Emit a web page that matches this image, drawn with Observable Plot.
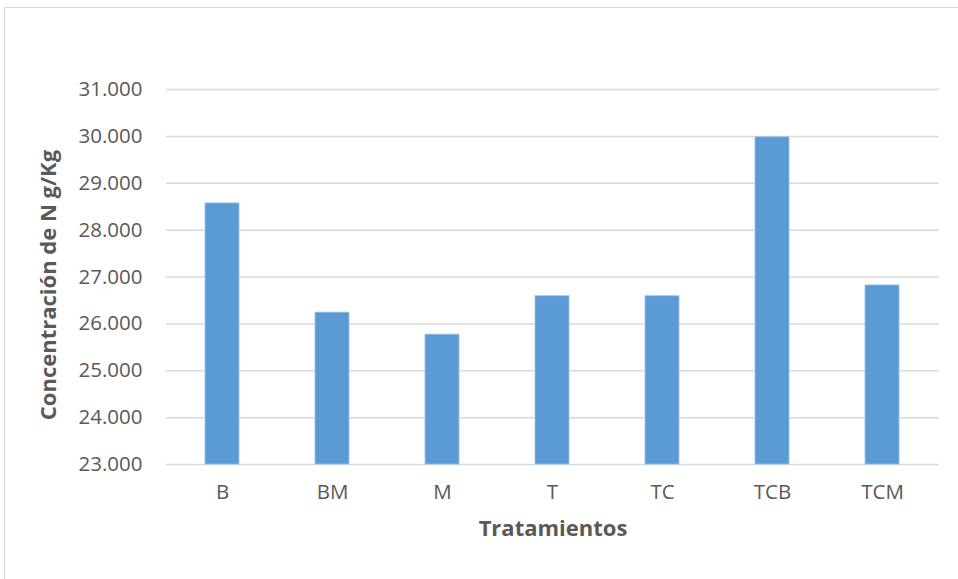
<!DOCTYPE html>
<html>
<head>
<meta charset="utf-8">
<script src="https://cdn.jsdelivr.net/npm/d3@7"></script>
<script src="https://cdn.jsdelivr.net/npm/@observablehq/plot@0.6"></script>
<style>
  html, body { margin: 0; padding: 0; background: #fff; }
  #wrap { position: relative; width: 958px; height: 579px; overflow: hidden; }
  #frame { position: absolute; left: 4px; top: 7px; width: 980px; height: 600px; border: 1px solid #d9d9d9; box-sizing: border-box; }
  #chart { position: absolute; left: 0; top: 0; }
</style>
</head>
<body>
<div id="wrap"><div id="frame"></div><div id="chart"></div></div>
<script>
const categories = ["B", "BM", "M", "T", "TC", "TCB", "TCM"];
const values = [28.57, 26.24, 25.77, 26.59, 26.59, 29.98, 26.82];
const yTicks = [23, 24, 25, 26, 27, 28, 29, 30, 31];
const yTickLabels = ["23.000", "24.000", "25.000", "26.000", "27.000", "28.000", "29.000", "30.000", "31.000"];
const yDomain = [23, 31];
const xTitle = "Tratamientos";
const yTitle = "Concentración de N g/Kg";

const data = categories.map((c, i) => ({ cat: c, value: values[i] }));
const font = "'Open Sans', sans-serif";

const chart = Plot.plot({
  width: 958,
  height: 579,
  marginLeft: 166,
  marginRight: 19,
  marginTop: 89,
  marginBottom: 115,
  style: { fontFamily: font, background: "transparent", color: "#595959" },
  x: { domain: categories, paddingInner: 0.69, paddingOuter: 0.345, label: null },
  y: { domain: yDomain, label: null },
  marks: [
    Plot.gridY(yTicks, { stroke: "#d9d9d9", strokeOpacity: 1, strokeWidth: 1.5 }),
    Plot.barY(data, { x: "cat", y1: yDomain[0], y2: "value", fill: "#5b9bd5", stroke: "#9cc3e8", strokeWidth: 0.8 }),
    Plot.axisY(yTicks, { tickSize: 0, tickPadding: 24, tickFormat: d => yTickLabels[yTicks.indexOf(d)], fontSize: 20.5, fill: "#595959", label: null }),
    Plot.axisX({ tickSize: 0, tickPadding: 20, fontSize: 20.5, fill: "#595959", label: null }),
    Plot.text([yTitle], { frameAnchor: "left", textAnchor: "middle", dx: -118, dy: 8, rotate: -90, fontSize: 22, fontWeight: "bold", fill: "#595959", text: d => d }),
    Plot.text([xTitle], { frameAnchor: "bottom", dy: 71, fontSize: 22, fontWeight: "bold", fill: "#595959", text: d => d })
  ]
});
document.getElementById("chart").appendChild(chart);
</script>
</body>
</html>
